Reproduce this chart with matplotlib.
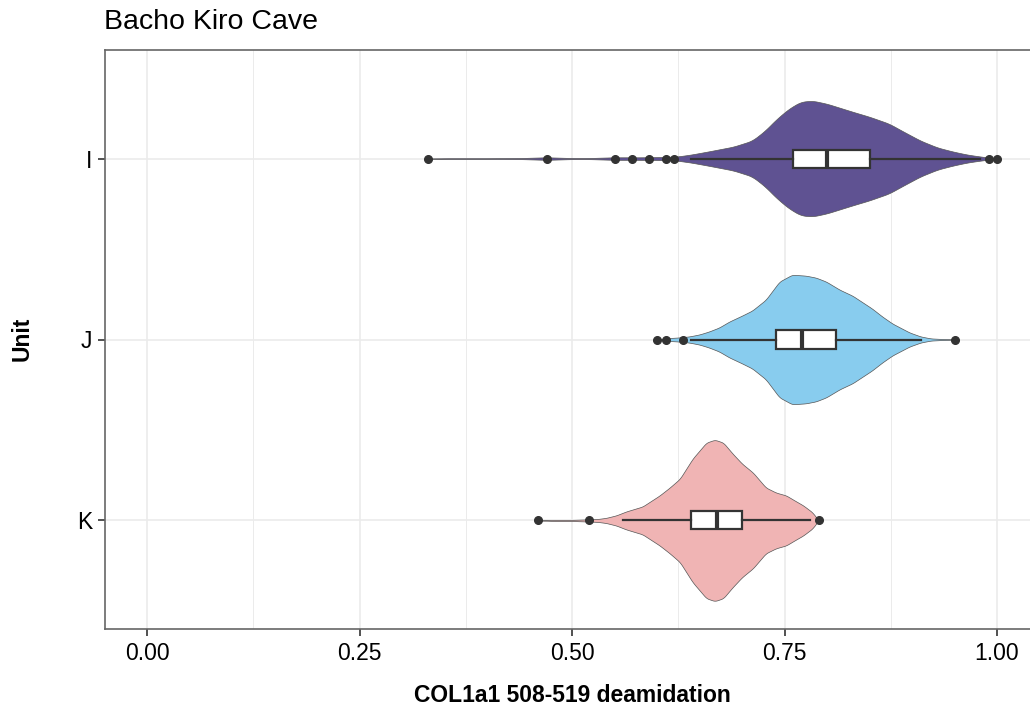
import numpy as np
import matplotlib
matplotlib.use("Agg")
import matplotlib.pyplot as plt

plt.rcParams['font.family'] = ['Liberation Sans', 'DejaVu Sans']

# units from top to bottom
units = ['I', 'J', 'K']
colors = ['#5F5292', '#88CCEE', '#F0B4B4']

# violin outlines: x values and half widths (category units)
viol_x = {
    'I': [0.33, 0.35, 0.40, 0.44, 0.47, 0.50, 0.52, 0.55, 0.58, 0.60, 0.623, 0.64, 0.66,
          0.69, 0.712, 0.727, 0.741, 0.755, 0.769, 0.783, 0.80, 0.815, 0.83, 0.85, 0.873,
          0.89, 0.91, 0.93, 0.948, 0.965, 0.981, 0.99, 1.00],
    'J': [0.60, 0.61, 0.614, 0.625, 0.638, 0.65, 0.661, 0.673, 0.685, 0.70, 0.712, 0.728,
          0.744, 0.759, 0.775, 0.787, 0.799, 0.815, 0.83, 0.853, 0.865, 0.877, 0.897, 0.91,
          0.922, 0.935, 0.95],
    'K': [0.46, 0.48, 0.50, 0.519, 0.53, 0.54, 0.552, 0.564, 0.583, 0.603, 0.615, 0.627,
          0.642, 0.658, 0.668, 0.678, 0.689, 0.70, 0.713, 0.728, 0.74, 0.752, 0.762, 0.772,
          0.783, 0.79],
}
viol_w = {
    'I': [0, .002, .002, .003, .007, .003, .003, .007, .007, .008, .011, .022, .039,
          .066, .099, .154, .220, .275, .314, .320, .303, .281, .259, .231, .193,
          .149, .099, .061, .039, .022, .011, .006, 0],
    'J': [0, .004, .008, .011, .017, .028, .044, .066, .099, .132, .160, .220,
          .320, .358, .353, .342, .320, .275, .242, .171, .127, .088, .039, .017,
          .006, .003, 0],
    'K': [0, .003, .003, .006, .008, .014, .028, .050, .077, .138, .182, .231,
          .342, .430, .446, .430, .369, .314, .264, .182, .154, .138, .110, .083,
          .044, 0],
}

# box plot statistics
whis_lo = [0.64, 0.64, 0.56]
q1 = [0.76, 0.74, 0.64]
med = [0.80, 0.77, 0.67]
q3 = [0.85, 0.81, 0.70]
whis_hi = [0.98, 0.91, 0.78]
outliers = [
    [0.33, 0.47, 0.55, 0.57, 0.59, 0.61, 0.62, 0.99, 1.00],
    [0.60, 0.61, 0.63, 0.95],
    [0.46, 0.52, 0.79],
]

fig = plt.figure(figsize=(10.30, 7.08), dpi=100)
ax = fig.add_axes([104.5 / 1030, 1 - 629 / 708, 935 / 1030, 579 / 708])

ypos = [3, 2, 1]
for i, u in enumerate(units):
    xs = np.linspace(viol_x[u][0], viol_x[u][-1], 600)
    ws = np.interp(xs, viol_x[u], viol_w[u])
    k = np.ones(11) / 11
    ws = np.convolve(np.pad(ws, 5, mode='edge'), k, mode='valid')
    ws[0] = ws[-1] = 0
    y = ypos[i]
    ax.fill_between(xs, y - ws, y + ws, facecolor=colors[i], edgecolor='#555555',
                    linewidth=0.5, zorder=2)

stats = []
for i in range(3):
    stats.append(dict(whislo=whis_lo[i], q1=q1[i], med=med[i], q3=q3[i],
                      whishi=whis_hi[i], fliers=outliers[i]))

ax.bxp(stats, positions=ypos, widths=0.1, orientation='horizontal', patch_artist=True,
       showcaps=False, manage_ticks=False,
       boxprops=dict(facecolor='white', edgecolor='#333333', linewidth=1.6),
       medianprops=dict(color='#333333', linewidth=3),
       whiskerprops=dict(color='#333333', linewidth=1.6),
       flierprops=dict(marker='o', markerfacecolor='#333333', markeredgecolor='#333333',
                       markersize=5.5))
for a in ax.patches + ax.lines:
    a.set_zorder(3)

ax.set_xlim(-0.05, 1.05)
ax.set_ylim(0.4, 3.6)
ax.set_xticks([0, 0.25, 0.5, 0.75, 1.0])
ax.set_xticklabels(['0.00', '0.25', '0.50', '0.75', '1.00'])
ax.set_xticks([0.125, 0.375, 0.625, 0.875], minor=True)
ax.set_yticks(ypos)
ax.set_yticklabels(units)
ax.tick_params(axis='both', which='major', labelsize=16.5, color='#333333', length=5,
               width=1.2, pad=4, labelcolor='black')
ax.tick_params(axis='x', which='minor', length=0)
ax.grid(True, which='major', color='#EBEBEB', linewidth=1.2, zorder=0)
ax.grid(True, which='minor', axis='x', color='#EBEBEB', linewidth=0.7, zorder=0)
ax.set_axisbelow(True)
for s in ax.spines.values():
    s.set_color('#666666')
    s.set_linewidth(1.2)

ax.set_xlabel('COL1a1 508-519 deamidation', fontsize=16.5, fontweight='bold', labelpad=14)
fig.text(22 / 1030, 1 - 339 / 708, 'Unit', fontsize=16.5, fontweight='bold',
         rotation=90, ha='center', va='center')
fig.text(104 / 1030, 1 - 22 / 708, 'Bacho Kiro Cave', fontsize=20.5, va='center', ha='left')

fig.savefig('out.png', dpi=100)
